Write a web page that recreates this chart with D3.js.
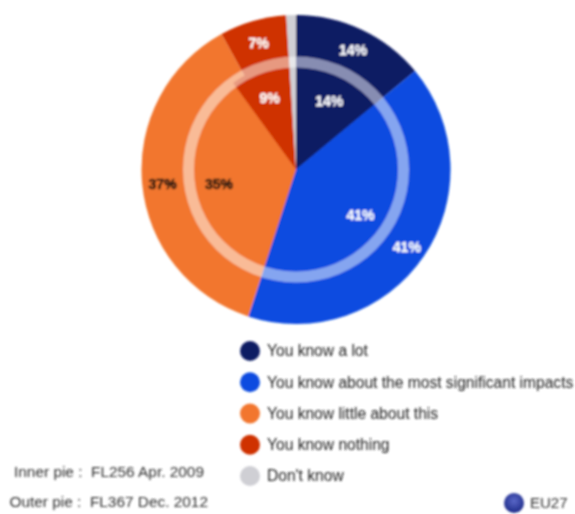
<!DOCTYPE html>
<html><head><meta charset="utf-8">
<style>html,body{margin:0;padding:0;background:#fff}svg{display:block}</style>
<script src="https://cdn.jsdelivr.net/npm/d3@7/dist/d3.min.js"></script>
</head><body><script>
const categories = ["You know a lot","You know about the most significant impacts","You know little about this","You know nothing","Don't know"];
const colors = ["#0e1a64","#0a4be0","#f2762e","#cf3300","#cfcfd4"];
const outerValues = [14,41,37,7,1];
const innerValues = [14,41,35,9,1];
const labelColors = ["#fff","#fff","#2a1a10","#fff",null];
const notes = ["Inner pie :  FL256 Apr. 2009","Outer pie :  FL367 Dec. 2012"];
const regionLabel = "EU27";

const W=575,H=514,cx=296,cy=169.5;
const svg=d3.select("body").append("svg").attr("width",W).attr("height",H);
const defs=svg.append("defs");
defs.append("filter").attr("id","soft").attr("x","-5%").attr("y","-5%").attr("width","110%").attr("height","110%")
  .append("feGaussianBlur").attr("stdDeviation",0.95);
const rg=defs.append("radialGradient").attr("id","eu").attr("cx","50%").attr("cy","40%").attr("r","60%");
rg.append("stop").attr("offset","0%").attr("stop-color","#5a68c8");
rg.append("stop").attr("offset","100%").attr("stop-color","#1c2a88");
const root=svg.append("g").attr("filter","url(#soft)");
const pie=d3.pie().sort(null).value(d=>d);
const font="'Liberation Sans',Arial,sans-serif";

function ring(values,r,labelR){
  const g=root.append("g").attr("transform",`translate(${cx},${cy})`);
  const arc=d3.arc().innerRadius(0).outerRadius(r);
  const lab=d3.arc().innerRadius(labelR).outerRadius(labelR);
  const arcs=pie(values);
  g.selectAll("path").data(arcs).join("path").attr("d",arc).attr("fill",(d,i)=>colors[i]);
  return {g,arcs,lab};
}
const outer=ring(outerValues,154.5,134);
const inner=ring(innerValues,107,78);
root.append("path").attr("transform",`translate(${cx},${cy})`)
  .attr("d",d3.arc().innerRadius(102).outerRadius(113).startAngle(0).endAngle(2*Math.PI)())
  .attr("fill","#fff").attr("fill-opacity",0.5);
[outer,inner].forEach(p=>{
  p.g.selectAll("text").data(p.arcs.filter(d=>d.value>1)).join("text")
   .attr("transform",d=>`translate(${p.lab.centroid(d)})`)
   .attr("text-anchor","middle").attr("dy","0.5em")
   .attr("font-family",font).attr("font-size",14).attr("font-weight","bold")
   .attr("fill",d=>labelColors[d.index])
   .attr("stroke",d=>labelColors[d.index]).attr("stroke-width",d=>d.index===2?0.6:0.3)
   .text(d=>d.value+"%");
});
const y=d3.scalePoint().domain(categories).range([351,476]);
const leg=root.append("g");
const items=leg.selectAll("g").data(categories).join("g").attr("transform",d=>`translate(250,${y(d)})`);
items.append("circle").attr("r",10).attr("fill",(d,i)=>colors[i]);
items.append("text").attr("x",17).attr("dy","0.35em").attr("font-family",font).attr("font-size",15.6)
  .attr("fill","#222").text(d=>d);
const ny=d3.scalePoint().domain(notes).range([472,502]);
const nx=[204,208];
root.selectAll("text.n").data(notes).join("text").attr("class","n")
  .attr("x",(d,i)=>nx[i]).attr("y",d=>ny(d)).attr("dy","0.35em").attr("text-anchor","end")
  .attr("xml:space","preserve").style("white-space","pre")
  .attr("font-family",font).attr("font-size",15.4).attr("fill","#333").text(d=>d);
root.append("circle").attr("cx",514).attr("cy",503).attr("r",10).attr("fill","url(#eu)");
root.append("text").attr("x",530).attr("y",503).attr("dy","0.35em").attr("font-family",font)
  .attr("font-size",15).attr("fill","#333").text(regionLabel);
</script></body></html>
